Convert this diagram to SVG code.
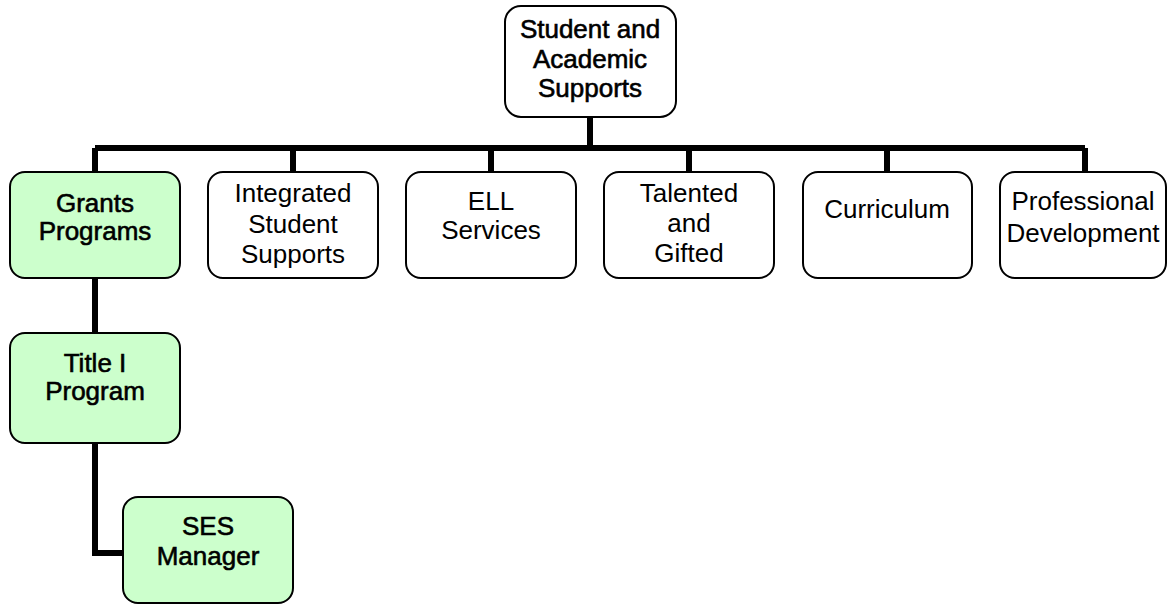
<svg xmlns="http://www.w3.org/2000/svg" width="1169" height="604" viewBox="0 0 1169 604">
<style>
.box{fill:#fff;stroke:#000;stroke-width:2}
.grn{fill:#ccffcc;stroke:#000;stroke-width:2}
.t{font-family:"Liberation Sans",Arial,sans-serif;font-size:26px;fill:#000;text-anchor:middle}
.h{stroke:#000;stroke-width:0.6}
.c{fill:none;stroke:#000;stroke-width:6}
</style>
<rect width="1169" height="604" fill="#fff"/>
<g id="connectors">
<path class="c" d="M590 117V148M95 148H1085M95 148V172M293 148V172M491 148V172M689 148V172M887 148V172M1085 148V172"/>
<path class="c" d="M95 278V333"/>
<path class="c" d="M95 443V553H123"/>
</g>
<g id="root">
<rect class="box" x="505" y="6" width="171" height="111" rx="16"/>
<text class="t h" x="590" y="38">Student and</text>
<text class="t h" x="590" y="68">Academic</text>
<text class="t h" x="590" y="97">Supports</text>
</g>
<g id="grants">
<rect class="grn" x="10" y="172" width="170" height="106" rx="15"/>
<text class="t h" x="95" y="212">Grants</text>
<text class="t h" x="95" y="240">Programs</text>
</g>
<g id="integrated">
<rect class="box" x="208" y="172" width="170" height="106" rx="15"/>
<text class="t" x="293" y="202">Integrated</text>
<text class="t" x="293" y="233">Student</text>
<text class="t" x="293" y="263">Supports</text>
</g>
<g id="ell">
<rect class="box" x="406" y="172" width="170" height="106" rx="15"/>
<text class="t" x="491" y="210">ELL</text>
<text class="t" x="491" y="239">Services</text>
</g>
<g id="talented">
<rect class="box" x="604" y="172" width="170" height="106" rx="15"/>
<text class="t" x="689" y="202">Talented</text>
<text class="t" x="689" y="232">and</text>
<text class="t" x="689" y="262">Gifted</text>
</g>
<g id="curriculum">
<rect class="box" x="803" y="172" width="169" height="106" rx="15"/>
<text class="t" x="887" y="218">Curriculum</text>
</g>
<g id="professional">
<rect class="box" x="1000" y="172" width="166" height="106" rx="15"/>
<text class="t" x="1083" y="210">Professional</text>
<text class="t" x="1083" y="242">Development</text>
</g>
<g id="title1">
<rect class="grn" x="10" y="333" width="170" height="110" rx="15"/>
<text class="t h" x="95" y="372">Title I</text>
<text class="t h" x="95" y="400">Program</text>
</g>
<g id="ses">
<rect class="grn" x="123" y="497" width="170" height="106" rx="15"/>
<text class="t h" x="208" y="535">SES</text>
<text class="t h" x="208" y="565">Manager</text>
</g>
</svg>
